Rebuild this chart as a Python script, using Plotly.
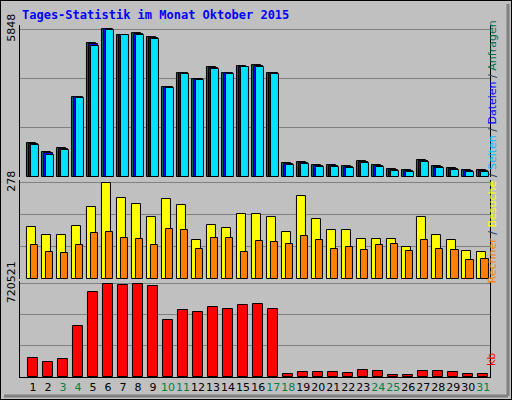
import plotly.graph_objects as go

days = list(range(1, 32))
weekend = [3, 4, 10, 11, 17, 18, 24, 25, 31]
max_top = 5848
max_mid = 278
max_kb = 720521

anfragen_px = [34,25,29,80,133,147,141,143,139,90,104,98,110,104,111,112,104,14,15,12,12,11,16,12,8,7,17,11,9,7,7]
dateien_px = [33,24,28,80,132,147,141,142,138,90,104,98,109,104,110,111,104,13,14,11,11,10,15,11,7,6,16,10,8,6,6]
seiten_px = [32,22,27,79,130,146,141,141,137,89,103,97,108,103,110,110,103,12,13,10,10,9,14,10,6,5,15,9,7,5,5]
anfragen = [round(v / 147 * max_top) for v in anfragen_px]
dateien = [round(v / 147 * max_top) for v in dateien_px]
seiten = [round(v / 147 * max_top) for v in seiten_px]
besuche = [151,127,127,154,208,278,235,217,178,232,214,112,157,148,187,187,178,136,241,175,142,142,115,115,115,94,178,127,112,82,79]
rechner = [97,79,76,97,133,136,118,115,97,145,142,88,118,118,79,109,106,100,124,112,88,94,85,97,100,82,112,88,85,55,58]
kb_px = [55,43,52,151,250,274,271,274,268,169,196,190,205,199,211,214,199,10,16,16,16,13,22,19,7,7,19,19,16,10,10]
kb = [round(v / 274 * max_kb) for v in kb_px]

fig = go.Figure()
line = dict(color="black", width=1)
def bar(y, color, off, w, ax):
    fig.add_trace(go.Bar(x=days, y=y, marker=dict(color=color, line=line),
                         offset=off, width=w, xaxis="x", yaxis=ax, showlegend=False))

bar(anfragen, "#006F4F", -0.42, 0.6, "y")
bar(dateien, "#0000FF", -0.3, 0.6, "y")
bar(seiten, "#00E0FF", -0.15, 0.52, "y")
bar(besuche, "#FFFF00", -0.42, 0.6, "y2")
bar(rechner, "#FF8000", -0.15, 0.5, "y2")
bar(kb, "#FF0000", -0.35, 0.68, "y3")

ticktext = [f"<span style='color:{'#008040' if d in weekend else '#000000'}'>{d}</span>" for d in days]

def yax(mx, dom, anchor):
    return dict(domain=dom, range=[0, mx * 1.03], tickvals=[mx / 3, 2 * mx / 3, mx],
                ticktext=["", "", str(mx)], tickangle=-90, showgrid=True, gridcolor="#808080",
                gridwidth=1, zeroline=False, showline=True, linecolor="black", mirror=True,
                linewidth=1, ticks="", tickfont=dict(family="DejaVu Sans", size=11, color="black"),
                anchor=anchor, fixedrange=True, automargin=False)

fig.update_layout(
    width=512, height=400, margin=dict(l=0, r=0, t=0, b=0, pad=0, autoexpand=False),
    paper_bgcolor="#C0C0C0", plot_bgcolor="#C0C0C0", barmode="overlay", bargap=0,
    xaxis=dict(domain=[0.039, 0.957], range=[0.13, 31.45], tickvals=days, ticktext=ticktext,
               tickangle=0, showgrid=False, zeroline=False, showline=True, linecolor="black",
               ticks="", tickfont=dict(family="DejaVu Sans", size=11), anchor="y3", automargin=False),
    yaxis=yax(max_top, [0.5575, 0.9375], "x"),
    yaxis2=yax(max_mid, [0.3025, 0.55], "x"),
    yaxis3=yax(max_kb, [0.0575, 0.2975], "x"),
    annotations=[
        dict(text="Tages-Statistik im Monat Oktober 2015", xref="paper", yref="paper", x=20/512, y=1-15/400,
             xanchor="left", yanchor="middle", showarrow=False,
             font=dict(family="DejaVu Sans Mono", size=12, color="#0000FF", weight="bold")),
        dict(text="<span style='color:#FF8000'>Rechner</span> / <span style='color:#FFFF00'>Besuche</span> / "
                  "<span style='color:#00C0FF'>Seiten</span> / <span style='color:#0000FF'>Dateien</span> / "
                  "<span style='color:#006F4F'>Anfragen</span>",
             xref="paper", yref="paper", x=500/512, y=1-152/400, textangle=-90, showarrow=False,
             font=dict(family="DejaVu Sans", size=11)),
        dict(text="kb", xref="paper", yref="paper", x=500/512, y=1-368/400, textangle=-90, showarrow=False,
             font=dict(family="DejaVu Sans", size=11, color="#FF0000")),
    ],
    shapes=[
        dict(type="rect", xref="paper", yref="paper", x0=0, y0=0, x1=1, y1=1, line=dict(color="black", width=2)),
        dict(type="line", xref="paper", yref="paper", x0=508/512, y0=4/400, x1=508/512, y1=396/400,
             line=dict(color="#808080", width=3)),
        dict(type="line", xref="paper", yref="paper", x0=4/512, y0=4/400, x1=508/512, y1=4/400,
             line=dict(color="#808080", width=3)),
    ],
)
fig.write_html("out.html", config={"displayModeBar": False},
               post_script="document.body.style.margin='0';document.body.style.overflow='hidden';")
